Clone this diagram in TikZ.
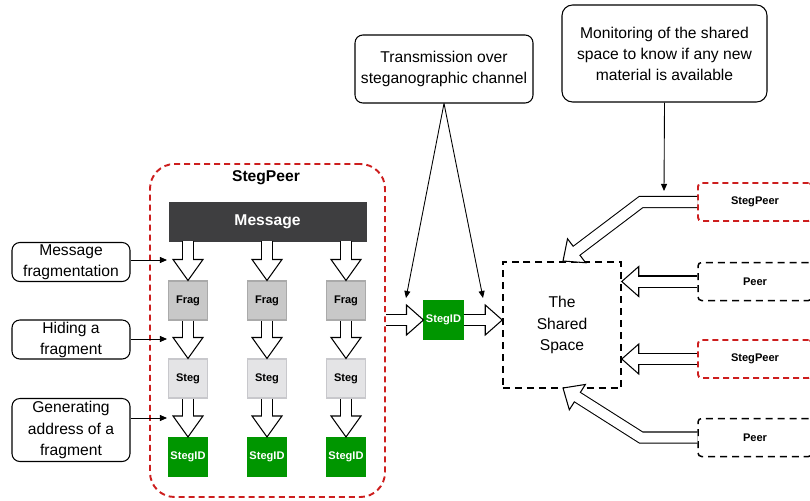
\documentclass[tikz,border=0pt]{standalone}
\usepackage{fontspec}
\setmainfont{Liberation Sans}
\usetikzlibrary{calc,arrows.meta}

\definecolor{stegred}{RGB}{205,30,30}
\definecolor{steggreen}{RGB}{0,150,0}
\definecolor{msggray}{RGB}{62,62,64}
\definecolor{fraggray}{RGB}{200,200,200}
\definecolor{fragline}{RGB}{170,170,170}
\definecolor{steggray}{RGB}{228,228,230}
\definecolor{stegline}{RGB}{200,200,204}

\newcommand\pu{0.02cm}
\newcommand\labelfont{\fontsize{8.9}{12}\selectfont}
\newcommand\cellfont{\fontsize{6.3}{7.5}\selectfont\bfseries}
\def\headlen{0.42cm}
\def\headwd{0.3cm}

% hollow block arrow: optional path before #2, head from #2 to the tip #3
\newcommand\fatarrow[3][]{%
  \coordinate (hb) at ($#3!\headlen!#2$);
  \filldraw[fill=white,line width=0.6pt] ($(hb)!\headwd!90:#3$) -- #3 -- ($(hb)!\headwd!-90:#3$) -- cycle;
  \draw[line width=0.2cm+1.2pt,line join=miter] #1 #2 -- (hb);
  \draw[white,line width=0.2cm,line join=miter] #1 #2 -- ($(hb)!1pt!#3$);
}

\tikzset{
  note/.style={draw,line width=0.6pt,rounded corners=4.5pt,fill=white,align=center,font=\labelfont,inner sep=0pt},
  cell/.style={draw,line width=0.6pt,minimum width=39*\pu,minimum height=39*\pu,font=\cellfont,inner sep=0pt},
  redframe/.style={draw=stegred,line width=1.1pt,dash pattern=on 3.4pt off 2.3pt},
  blackframe/.style={draw=black,line width=0.85pt,dash pattern=on 4pt off 2.8pt},
  thinarrow/.style={line width=0.5pt,-{Triangle[length=4pt,width=3.4pt]}}
}

\begin{document}
\begin{tikzpicture}[x=0.02cm,y=-0.02cm]
\useasboundingbox (0,0) rectangle (810,500);
\node[redframe,rounded corners=14pt,minimum width=235*\pu,minimum height=333*\pu] (sp) at (267.5,330.5) {};
\node[font=\labelfont\bfseries] (sptitle) at (266,178) {StegPeer};
\node[draw=msggray,fill=msggray,text=white,font=\labelfont\bfseries,minimum width=197*\pu,minimum height=39*\pu,inner sep=0pt] (msg) at (267.5,221.5) {Message};
\foreach \i/\x in {1/188,2/267,3/346}{
  \node[cell,fill=fraggray,draw=fragline] (frag\i) at (\x,300.5) {Frag};
  \node[cell,fill=steggray,draw=stegline] (steg\i) at (\x,378.5) {Steg};
  \node[cell,fill=steggreen,draw=steggreen,text=white] (id\i) at (\x,457) {StegID};
}
\node[note,minimum width=118*\pu,minimum height=39*\pu] (lfrag) at (71,262) {Message\\fragmentation};
\node[note,minimum width=118*\pu,minimum height=39*\pu] (lhide) at (71,339.5) {Hiding a\\fragment};
\node[note,minimum width=118*\pu,minimum height=63*\pu] (laddr) at (71,430) {Generating\\address of a\\fragment};
\coordinate (a1) at (167,260);
\coordinate (a2) at (167,339);
\coordinate (a3) at (167,418);
\draw[thinarrow] (lfrag.east |- a1) -- (a1);
\draw[thinarrow] (lhide.east |- a2) -- (a2);
\draw[thinarrow] (laddr.east |- a3) -- (a3);
\foreach \i in {1,2,3}{
  \fatarrow{(msg.south -| frag\i.north)}{(frag\i.north)}
  \fatarrow{(frag\i.south)}{(steg\i.north)}
  \fatarrow{(steg\i.south)}{(id\i.north)}
}
\node[cell,fill=steggreen,draw=steggreen,text=white] (mid) at (443.5,320) {StegID};
\node[blackframe,minimum width=118*\pu,minimum height=126*\pu,align=center,font=\labelfont] (shared) at (562,325) {The\\Shared\\Space};
\node[note,minimum width=178*\pu,minimum height=68*\pu] (trans) at (444,69) {Transmission over\\steganographic channel};
\node[note,minimum width=205*\pu,minimum height=97*\pu,rounded corners=6pt] (mon) at (664.5,53.5) {Monitoring of the shared\\space to know if any new\\material is available};
\node[redframe,rounded corners=2pt,fill=white,minimum width=114*\pu,minimum height=38*\pu,font=\cellfont] (sp1) at (755,202) {StegPeer};
\node[blackframe,rounded corners=2pt,minimum width=114*\pu,minimum height=38*\pu,font=\cellfont] (pr1) at (755,281.5) {Peer};
\node[redframe,rounded corners=2pt,minimum width=114*\pu,minimum height=38*\pu,font=\cellfont] (sp2) at (755,359) {StegPeer};
\node[blackframe,rounded corners=2pt,minimum width=114*\pu,minimum height=38*\pu,font=\cellfont] (pr2) at (755,437.5) {Peer};
\def\headlen{0.34cm}
\fatarrow{(sp.east |- mid.west)}{(mid.west)}
\fatarrow{(mid.east)}{(shared.west |- mid.east)}
\fatarrow{(pr1.west)}{(shared.east |- pr1.west)}
\fatarrow{(sp2.west)}{(shared.east |- sp2.west)}
\coordinate (b1) at (641,202);
\coordinate (e1) at (563,261);
\fatarrow[(sp1.west) --]{(b1)}{(e1)}
\coordinate (b2) at (641,437.5);
\coordinate (e2) at (563,388);
\fatarrow[(pr2.west) --]{(b2)}{(e2)}
\coordinate (r1) at (406,298);
\coordinate (r2) at (483,298);
\draw[thinarrow] (trans.south) -- (r1);
\draw[thinarrow] (trans.south) -- (r2);
\coordinate (m1) at (664,191);
\draw[thinarrow] (mon.south) -- (m1);
\end{tikzpicture}
\end{document}
